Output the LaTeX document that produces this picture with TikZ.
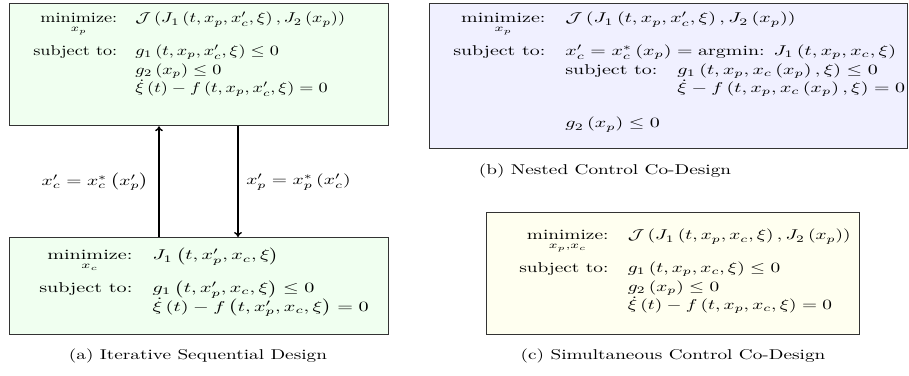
\documentclass[tikz,border=0pt]{standalone}
\usepackage{amsmath}
\usepackage{graphicx}
\usetikzlibrary{arrows.meta}
\definecolor{fillA}{HTML}{F0FFF0}
\definecolor{fillB}{HTML}{F0F0FF}
\definecolor{fillC}{HTML}{FFFFF0}
\renewcommand{\arraystretch}{1.08}
\tikzset{
  optbox/.style={draw=black!80, line width=0.9pt, anchor=north west, inner sep=0pt},
  opttext/.style={anchor=base west, inner sep=0pt},
  link/.style={line width=1pt, -{To[length=3.5pt,width=5.5pt]}},
  caption/.style={inner sep=0pt}
}
\begin{document}
\begin{tikzpicture}[x=0.7041pt,y=-0.7041pt]
\useasboundingbox (0,0) rectangle (909,376);
% boxes
\node[optbox, fill=fillA, minimum width=266.9pt, minimum height=85.9pt] (atop) at (9,3) {};
\node[optbox, fill=fillA, minimum width=266.9pt, minimum height=68.3pt] (abot) at (9,237) {};
\node[optbox, fill=fillB, minimum width=336.6pt, minimum height=102.1pt] (bbox) at (429,3) {};
\node[optbox, fill=fillC, minimum width=262.6pt, minimum height=85.9pt] (cbox) at (486,212) {};
% texts
\node[opttext] (atoptext) at (33,23) {\scalebox{1.28}[1]{$\begin{array}[t]{@{}rl@{}}
\underset{x_p}{\text{minimize:}} & \mathcal{J}\left(J_1\left(t,x_p,x'_c,\xi\right),J_2\left(x_p\right)\right)\\[10pt]
\text{subject to:} & g_1\left(t,x_p,x'_c,\xi\right)\le 0\\
 & g_2\left(x_p\right)\le 0\\
 & \dot{\xi}\left(t\right)-f\left(t,x_p,x'_c,\xi\right)=0
\end{array}$}};
\node[opttext] (abottext) at (39,260) {\scalebox{1.42}[1]{$\begin{array}[t]{@{}rl@{}}
\underset{x_c}{\text{minimize:}} & J_1\left(t,x'_p,x_c,\xi\right)\\[10pt]
\text{subject to:} & g_1\left(t,x'_p,x_c,\xi\right)\le 0\\
 & \dot{\xi}\left(t\right)-f\left(t,x'_p,x_c,\xi\right)=0
\end{array}$}};
\node[opttext] (btext) at (453,23) {\scalebox{1.405}[1]{$\begin{array}[t]{@{}rl@{}}
\underset{x_p}{\text{minimize:}} & \mathcal{J}\left(J_1\left(t,x_p,x'_c,\xi\right),J_2\left(x_p\right)\right)\\[10pt]
\text{subject to:} & x'_c=x^*_c\left(x_p\right)=\text{argmin: }J_1\left(t,x_p,x_c,\xi\right)\\
 & \begin{array}[t]{@{}rl@{}}
   \text{subject to:} & g_1\left(t,x_p,x_c\left(x_p\right),\xi\right)\le 0\\
    & \dot{\xi}-f\left(t,x_p,x_c\left(x_p\right),\xi\right)=0
   \end{array}\\[25pt]
 & g_2\left(x_p\right)\le 0
\end{array}$}};
\node[opttext] (ctext) at (519,240) {\scalebox{1.36}[1]{$\begin{array}[t]{@{}rl@{}}
\underset{x_p,x_c}{\text{minimize:}} & \mathcal{J}\left(J_1\left(t,x_p,x_c,\xi\right),J_2\left(x_p\right)\right)\\[10pt]
\text{subject to:} & g_1\left(t,x_p,x_c,\xi\right)\le 0\\
 & g_2\left(x_p\right)\le 0\\
 & \dot{\xi}\left(t\right)-f\left(t,x_p,x_c,\xi\right)=0
\end{array}$}};
% connectors
\coordinate (upx) at (159,0);
\coordinate (downx) at (238,0);
\draw[link] (abot.north -| upx) -- (atop.south -| upx);
\draw[link] (atop.south -| downx) -- (abot.north -| downx);
\node[anchor=east, inner sep=0pt] (lblup) at (149,182) {\scalebox{1.38}[1]{$x'_c=x^*_c\left(x'_p\right)$}};
\node[anchor=west, inner sep=0pt] (lbldown) at (246,182) {\scalebox{1.38}[1]{$x'_p=x^*_p\left(x'_c\right)$}};
% captions
\node[caption] (capa) at (198,356) {\scalebox{1.355}[1]{(a) Iterative Sequential Design}};
\node[caption] (capb) at (605,171) {\scalebox{1.355}[1]{(b) Nested Control Co-Design}};
\node[caption] (capc) at (673,356) {\scalebox{1.355}[1]{(c) Simultaneous Control Co-Design}};
\end{tikzpicture}
\end{document}
